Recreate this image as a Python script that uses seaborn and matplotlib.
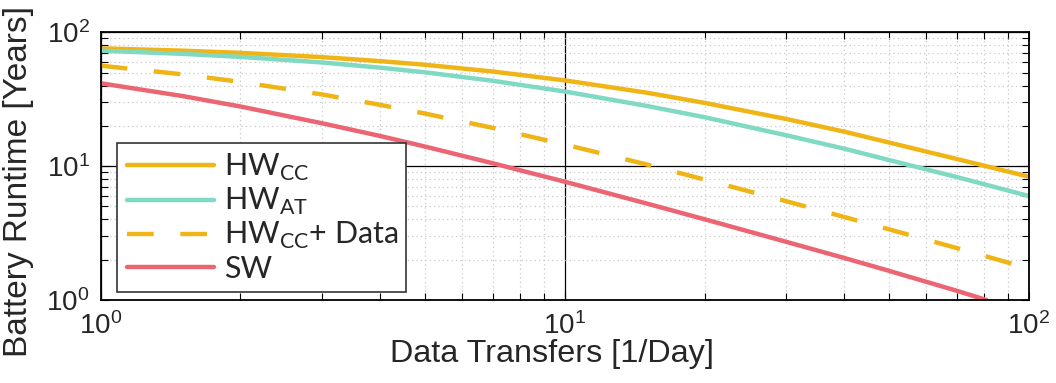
import numpy as np
import pandas as pd
import seaborn as sns
import matplotlib
matplotlib.use("Agg")
import matplotlib.pyplot as plt
from matplotlib.ticker import LogLocator, NullFormatter

# ---- data ----
x_vals = [1, 1.5, 2, 3, 4, 5, 7, 10, 15, 20, 30, 40, 50, 70, 100]
hw_cc = [75.9, 72.9, 70.2, 65.2, 60.9, 57.2, 50.9, 43.7, 35.4, 29.7, 22.5, 18.1, 15.0, 11.3, 8.34]
hw_at = [72.9, 69.0, 65.5, 59.5, 54.4, 50.2, 43.4, 36.1, 28.2, 23.2, 17.0, 13.5, 11.1, 8.28, 5.98]
hw_cc_data = [56.3, 48.5, 42.6, 34.3, 28.7, 24.7, 19.3, 14.5, 10.3, 7.94, 5.47, 4.17, 3.37, 2.44, 1.72]
sw_x = [1, 1.5, 2, 3, 4, 5, 7, 10, 15, 20, 30, 40, 50, 70, 81]
sw = [41.6, 33.4, 27.9, 20.9, 16.8, 14.0, 10.5, 7.65, 5.26, 4.01, 2.72, 2.06, 1.65, 1.17, 1.0]

labels = [r"HW$_{\mathdefault{CC}}$", r"HW$_{\mathdefault{AT}}$",
          r"HW$_{\mathdefault{CC}}$+ Data", "SW"]
colors = ["#EFB416", "#80D9C3", "#EFB416", "#EB6672"]

sns.set_theme(style="white")
plt.rcParams["font.family"] = ["Liberation Sans", "DejaVu Sans"]

fig = plt.figure(figsize=(10.56, 3.83), dpi=100)
ax = fig.add_axes([0.0954, 0.2167, 0.8790, 0.6990])

series = [(x_vals, hw_cc), (x_vals, hw_at), (x_vals, hw_cc_data), (sw_x, sw)]
for i, ((xs, ys), lab, col) in enumerate(zip(series, labels, colors)):
    df = pd.DataFrame({"x": xs, "y": ys})
    sns.lineplot(data=df, x="x", y="y", ax=ax, lw=3.2, color=col, label=lab)
    if i == 2:
        ax.lines[-1].set_dashes((6, 6))

ax.set_xscale("log")
ax.set_yscale("log")
ax.set_xlim(1, 100)
ax.set_ylim(1, 100)

ax.xaxis.set_minor_locator(LogLocator(base=10, subs=np.arange(2, 10)))
ax.yaxis.set_minor_locator(LogLocator(base=10, subs=np.arange(2, 10)))
ax.xaxis.set_minor_formatter(NullFormatter())
ax.yaxis.set_minor_formatter(NullFormatter())

ax.grid(True, which="minor", color="#c8c8c8", linestyle=(0, (1, 2.5)), lw=0.9)
ax.grid(True, which="major", color="black", linestyle="-", lw=0.9)
ax.set_axisbelow(True)

for s in ax.spines.values():
    s.set_color("black")
    s.set_linewidth(1.3)

ax.tick_params(which="both", direction="in", left=True, bottom=True,
               top=True, right=True, color="black", width=0.8)
ax.tick_params(which="major", length=6, labelsize=20)
ax.tick_params(which="minor", length=5)
ax.tick_params(axis="y", pad=8)
ax.tick_params(axis="x", pad=9)

ax.set_xlabel("Data Transfers [1/Day]", fontsize=23.3)
ax.set_ylabel("Battery Runtime [Years]", fontsize=24)
ax.xaxis.set_label_coords(0.4862, -0.147)
ax.yaxis.set_label_coords(-0.0715, 0.442)

leg = ax.legend(loc="lower left", bbox_to_anchor=(0.018, 0.031, 0.311, 0.552),
                mode="expand", prop={"family": "Lato", "size": 22},
                handlelength=2.85, handletextpad=0.35, labelspacing=0.1,
                borderaxespad=0, borderpad=0.3, fancybox=False,
                framealpha=1, edgecolor="#333333")
leg.get_frame().set_linewidth(1.2)

fig.savefig("out.png", dpi=100)
